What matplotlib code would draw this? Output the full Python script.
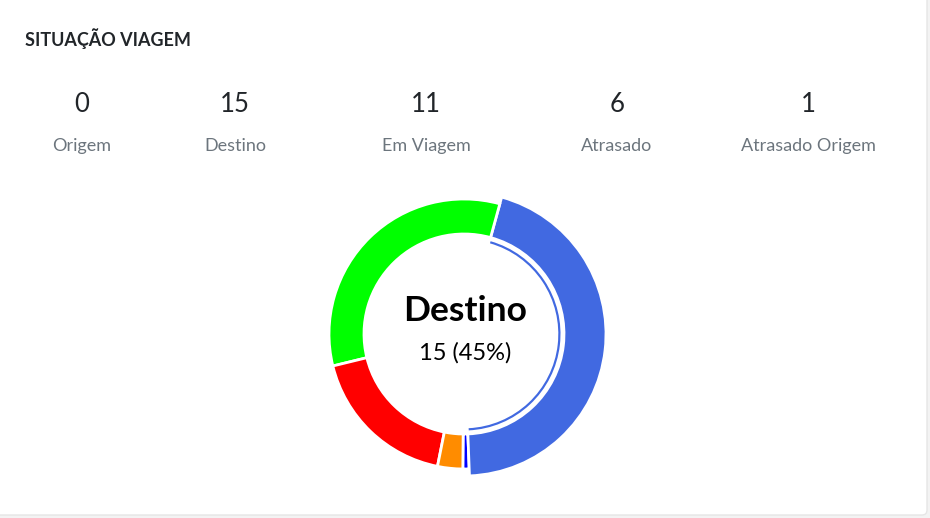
import matplotlib
matplotlib.use("Agg")
import matplotlib.pyplot as plt
from matplotlib.patches import FancyBboxPatch, Wedge

plt.rcParams["font.family"] = ["Lato", "DejaVu Sans"]

# data
categories = ["Origem", "Destino", "Em Viagem", "Atrasado", "Atrasado Origem"]
counts = [0, 15, 11, 6, 1]
colors = ["#0000ff", "#4169e1", "#00ff00", "#ff0000", "#ff8c00"]
highlight = "Destino"
stat_x = [82, 235, 426, 617, 808]

W, H = 930, 518
fig = plt.figure(figsize=(W / 100, H / 100), dpi=100, facecolor="#f3f3f3")
ax = fig.add_axes([0, 0, 1, 1])

# zero values still get a thin sliver, like the original widget
shown = [c if c > 0 else 0.25 for c in counts]
cx, cy = 464, H - 334
wedges, _ = ax.pie(shown, colors=colors, startangle=269.5, counterclock=True,
                   radius=135, center=(cx, cy),
                   wedgeprops=dict(width=35, edgecolor="white", linewidth=2))

# hovered slice: pushed out a bit, with a thin arc inside
hi = categories.index(highlight)
w = wedges[hi]
w.set_radius(142)
w.set_width(42)
ax.add_patch(Wedge((cx, cy), 96.5, w.theta1 + 0.6, w.theta2 - 0.6, width=2.2,
                   facecolor=colors[hi], edgecolor="none"))

ax.set_xlim(0, W)
ax.set_ylim(0, H)
ax.set_aspect("auto")
ax.axis("off")

card = FancyBboxPatch((-20, 3), 947, H + 20, boxstyle="round,pad=0,rounding_size=5",
                      facecolor="white", edgecolor="#e6e6e6", linewidth=1, zorder=0)
ax.add_patch(card)

ax.text(25, H - 39, "SITUAÇÃO VIAGEM", fontsize=13, fontweight="bold",
        color="#212529", ha="left", va="center")

for x, cat, c in zip(stat_x, categories, counts):
    ax.text(x, H - 105, str(c), fontsize=18.5, color="#212529", ha="center", va="center")
    ax.text(x, H - 146, cat, fontsize=13, color="#6c757d", ha="center", va="center")

pct = round(counts[hi] / sum(counts) * 100)
ax.text(cx + 1, H - 311, highlight, fontsize=25.5, fontweight="bold",
        color="black", ha="center", va="center")
ax.text(cx + 1, H - 353, f"{counts[hi]} ({pct}%)", fontsize=17,
        color="black", ha="center", va="center")

fig.savefig("out.png", dpi=100, facecolor=fig.get_facecolor())
